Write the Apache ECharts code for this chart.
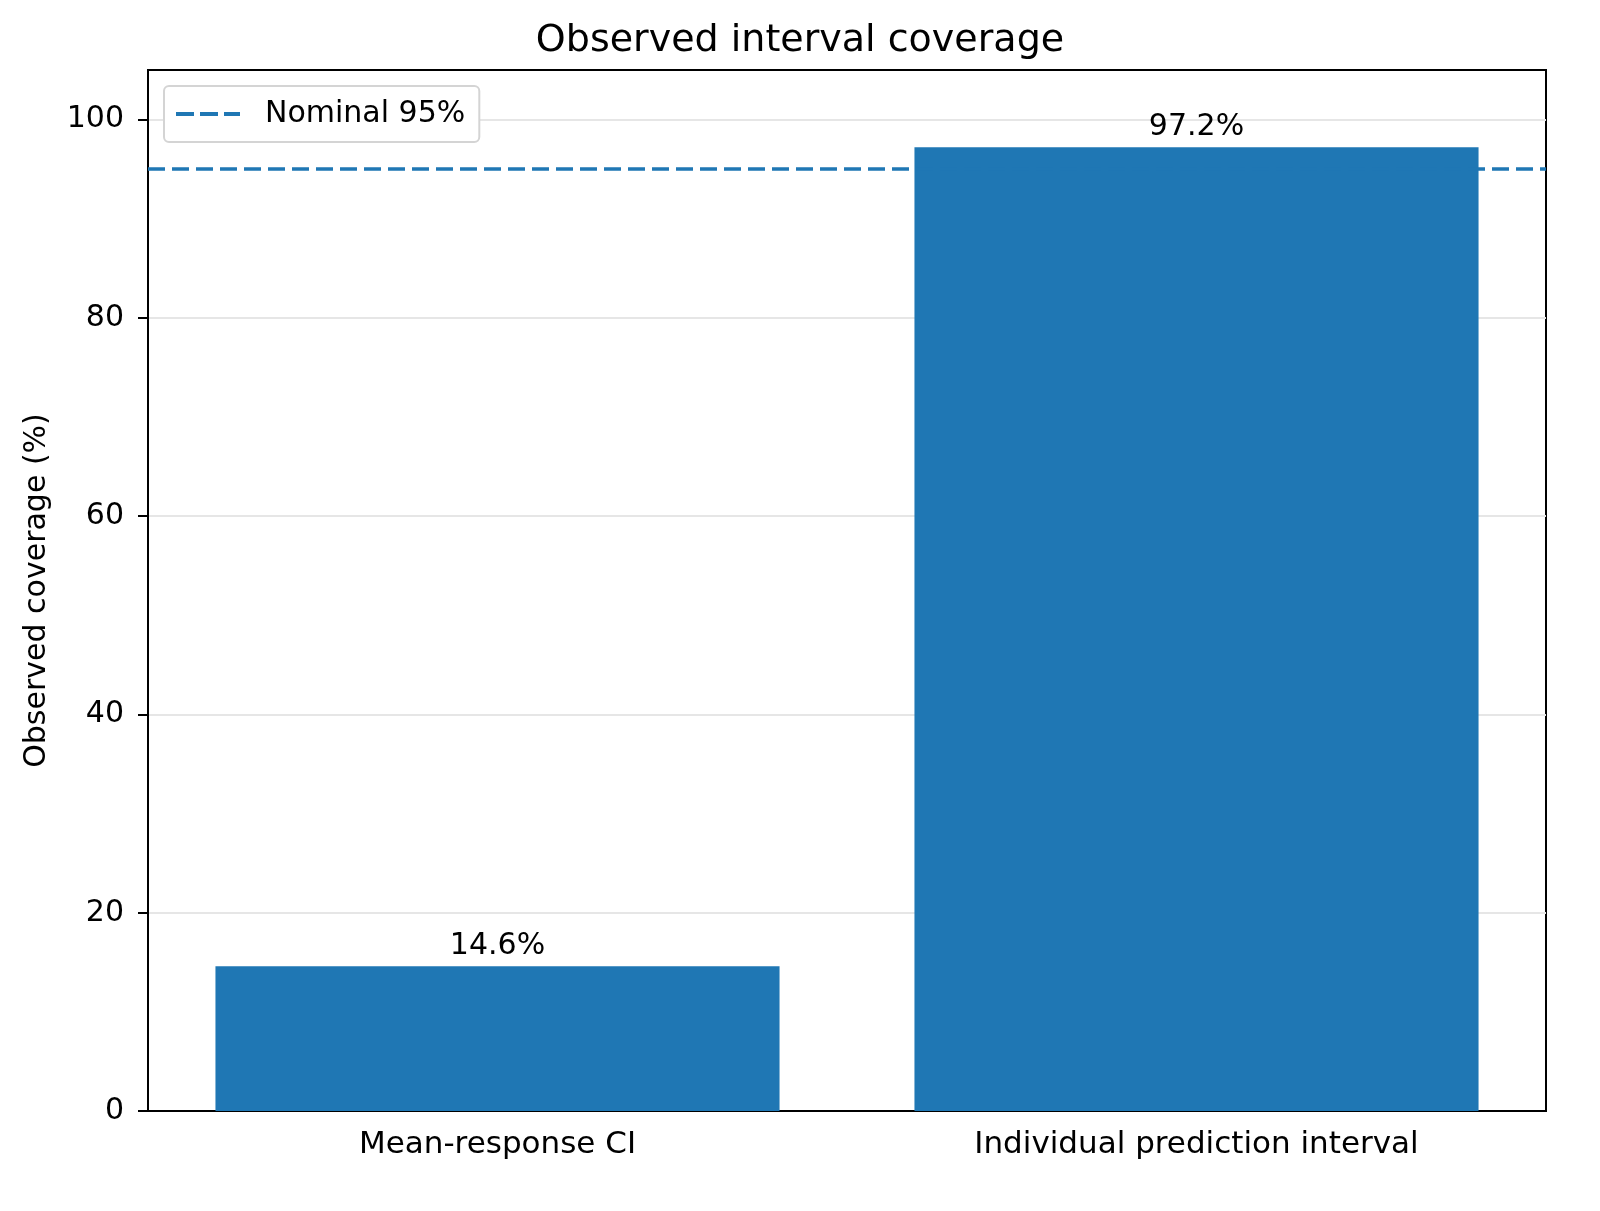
<!DOCTYPE html>
<html>
<head>
<meta charset="utf-8"/>
<title>Observed interval coverage</title>
<script src="https://cdn.jsdelivr.net/npm/echarts@6/dist/echarts.min.js"></script>
<style>
  html, body { margin: 0; padding: 0; background: #fff; }
  #chart { width: 1600px; height: 1211px; }
</style>
</head>
<body>
<div id="chart"></div>
<script>
var categories = ['Mean-response CI', 'Individual prediction interval'];
var coverage = [14.6, 97.2];
var nominal = 95;
var yTicks = [0, 20, 40, 60, 80, 100];

var font = 'DejaVu Sans';
// three dashes, used as legend icon for the nominal line
var dashIcon = 'path://M0,0h18v4h-18z M24,0h18v4h-18z M48,0h16v4h-16z';

var myChart = echarts.init(document.getElementById('chart'));

myChart.setOption({
  animation: false,
  backgroundColor: '#fff',
  textStyle: { fontFamily: font, color: '#000' },
  title: {
    text: 'Observed interval coverage',
    left: 'center',
    top: 17,
    textStyle: { fontFamily: font, fontSize: 38, fontWeight: 'normal', color: '#000' }
  },
  legend: {
    left: 164,
    top: 86,
    padding: [13, 14, 13, 12],
    backgroundColor: '#fff',
    borderColor: '#d4d4d4',
    borderWidth: 2,
    borderRadius: 5,
    itemWidth: 64,
    itemHeight: 4,
    textStyle: { fontFamily: font, fontSize: 30, color: '#000', padding: [0, 0, 0, 20] },
    data: [{
      name: 'Nominal 95%',
      icon: dashIcon,
      itemStyle: { color: '#1f77b4' }
    }]
  },
  grid: {
    left: 148,
    right: 54,
    top: 70,
    bottom: 100,
    show: true,
    borderColor: '#000',
    borderWidth: 2,
    backgroundColor: 'transparent'
  },
  xAxis: {
    type: 'category',
    data: categories,
    axisLine: { lineStyle: { color: '#000', width: 2 } },
    axisTick: { alignWithLabel: true, length: 10, lineStyle: { color: '#000', width: 2 } },
    axisLabel: { fontFamily: font, fontSize: 31, color: '#000', margin: 18 },
    splitLine: { show: false }
  },
  yAxis: {
    type: 'value',
    min: 0,
    max: 105,
    interval: 20,
    name: 'Observed coverage (%)',
    nameLocation: 'middle',
    nameGap: 96,
    nameTextStyle: { fontFamily: font, fontSize: 30, color: '#000' },
    axisLine: { show: true, lineStyle: { color: '#000', width: 2 } },
    axisTick: { show: true, length: 10, customValues: yTicks, lineStyle: { color: '#000', width: 2 } },
    axisLabel: { fontFamily: font, fontSize: 30, color: '#000', margin: 24, customValues: yTicks },
    splitLine: { show: true, lineStyle: { color: '#e6e6e6', width: 2 } }
  },
  series: [
    {
      name: 'Coverage',
      type: 'bar',
      data: coverage,
      barWidth: '80.7%',
      itemStyle: { color: '#1f77b4' },
      label: {
        show: true,
        position: 'top',
        distance: 5,
        fontFamily: font,
        fontSize: 30,
        color: '#000',
        formatter: function (p) { return p.value.toFixed(1) + '%'; }
      },
      z: 2
    },
    {
      name: 'Nominal 95%',
      type: 'line',
      data: [],
      symbol: 'none',
      showSymbol: false,
      lineStyle: { color: '#1f77b4', width: 3.5, type: [17, 7] },
      itemStyle: { color: '#1f77b4' },
      markLine: {
        silent: true,
        symbol: 'none',
        label: { show: false },
        lineStyle: { color: '#1f77b4', width: 3.5, type: [17, 7] },
        data: [{ yAxis: nominal }]
      },
      z: 3
    }
  ]
});
</script>
</body>
</html>
